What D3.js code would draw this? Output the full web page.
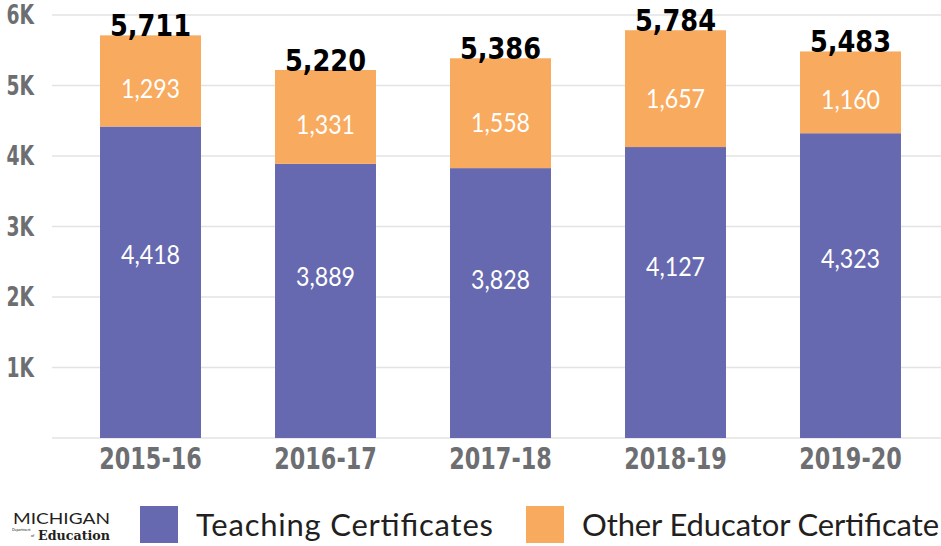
<!DOCTYPE html>
<html>
<head>
<meta charset="utf-8">
<script src="https://cdn.jsdelivr.net/npm/d3@7"></script>
<style>
  body { margin: 0; background: #fff; }
  svg { display: block; }
  .cond { font-family: "Liberation Sans Narrow", "DejaVu Sans Condensed", "Roboto", sans-serif; font-stretch: condensed; }
</style>
</head>
<body>
<div id="chart"></div>
<script>
const years = ["2015-16", "2016-17", "2017-18", "2018-19", "2019-20"];
const teaching = [4418, 3889, 3828, 4127, 4323];
const other = [1293, 1331, 1558, 1657, 1160];
const totals = [5711, 5220, 5386, 5784, 5483];
const yTicks = [1000, 2000, 3000, 4000, 5000, 6000];
const seriesNames = ["Teaching Certificates", "Other Educator Certificate"];
const colors = ["#6669AF", "#F8AA5E"];

function drawChart() {
    const W = 941, H = 546;
    const fmt = d3.format(",");

    const svg = d3.select("#chart").append("svg")
        .attr("width", W).attr("height", H);

    const x = d3.scaleBand()
        .domain(years)
        .range([63, 938])
        .paddingInner(0.423)
        .paddingOuter(0.2115);

    const y = d3.scaleLinear()
        .domain([0, 6000])
        .range([438, 15]);

    // gridlines
    svg.append("g").selectAll("line")
        .data([0].concat(yTicks))
        .enter().append("line")
        .attr("x1", 52).attr("x2", W)
        .attr("y1", d => y(d)).attr("y2", d => y(d))
        .attr("stroke", "#e3e3e3")
        .attr("stroke-width", 1.5);

    // y tick labels (condensed look via horizontal squeeze)
    svg.append("g").selectAll("text")
        .data(yTicks)
        .enter().append("text")
        .attr("class", "cond")
        .attr("transform", d => `translate(34,${y(d)}) scale(0.8,1)`)
        .attr("dy", "0.36em")
        .attr("text-anchor", "end")
        .attr("fill", "#6d6e71")
        .style("font-size", "26px")
        .style("font-weight", "bold")
        .text(d => (d / 1000) + "K");

    const stacked = d3.stack().keys([0, 1])
        .value((d, k) => k === 0 ? d.t : d.o)(years.map((yr, i) => ({ yr, t: teaching[i], o: other[i] })));

    const labelFrac = [0.41, 0.58];

    stacked.forEach((layer, k) => {
        const g = svg.append("g");
        g.selectAll("rect")
            .data(layer)
            .enter().append("rect")
            .attr("x", d => x(d.data.yr))
            .attr("width", x.bandwidth())
            .attr("y", d => y(d[1]))
            .attr("height", d => y(d[0]) - y(d[1]))
            .attr("fill", colors[k]);

        g.selectAll("text")
            .data(layer)
            .enter().append("text")
            .attr("transform", d => `translate(${x(d.data.yr) + x.bandwidth() / 2},${y(d[1]) + (y(d[0]) - y(d[1])) * labelFrac[k]}) scale(0.86,1)`)
            .attr("dy", "0.36em")
            .attr("text-anchor", "middle")
            .attr("fill", "#fff")
            .style("font-family", "Lato, 'Open Sans', sans-serif")
            .style("font-size", "27px")
            .text(d => fmt(d[1] - d[0]));
    });

    // totals
    svg.append("g").selectAll("text")
        .data(totals)
        .enter().append("text")
        .attr("class", "cond")
        .attr("transform", (d, i) => `translate(${x(years[i]) + x.bandwidth() / 2},${y(d) + 1}) scale(0.92,1)`)
        .attr("text-anchor", "middle")
        .attr("fill", "#000")
        .style("font-size", "31px")
        .style("font-weight", "bold")
        .text(d => fmt(d));

    // x labels
    svg.append("g").selectAll("text")
        .data(years)
        .enter().append("text")
        .attr("class", "cond")
        .attr("transform", d => `translate(${x(d) + x.bandwidth() / 2},469) scale(0.8,1)`)
        .attr("text-anchor", "middle")
        .attr("fill", "#6d6e71")
        .style("font-size", "31px")
        .style("font-weight", "bold")
        .text(d => d);

    // legend
    const legendX = [140, 526];
    const legendTextW = [297, 357];
    const leg = svg.append("g");
    seriesNames.forEach((name, i) => {
        leg.append("rect")
            .attr("x", legendX[i]).attr("y", 506)
            .attr("width", 38).attr("height", 37)
            .attr("fill", colors[i]);
        leg.append("text")
            .attr("x", legendX[i] + 56).attr("y", 525)
            .attr("dy", "0.36em")
            .attr("fill", "#231f20")
            .attr("textLength", legendTextW[i])
            .style("font-family", "Lato, 'Open Sans', sans-serif")
            .style("font-size", "31px")
            .text(name);
    });

    // logo
    const logo = svg.append("g").attr("fill", "#231f20");
    logo.append("text")
        .attr("x", 13).attr("y", 524)
        .style("font-family", "Lato, sans-serif")
        .style("font-size", "15px")
        .attr("textLength", 97)
        .attr("lengthAdjust", "spacingAndGlyphs")
        .text("MICHIGAN");
    logo.append("text")
        .attr("x", 12).attr("y", 531)
        .style("font-family", "Lato, sans-serif")
        .style("font-size", "3.5px")
        .text("Department");
    logo.append("text")
        .attr("x", 31).attr("y", 537)
        .style("font-family", "Lato, sans-serif")
        .style("font-size", "3.5px")
        .text("of");
    logo.append("text")
        .attr("x", 38).attr("y", 540)
        .style("font-family", "'DejaVu Serif', 'Liberation Serif', serif")
        .style("font-size", "13px")
        .style("font-weight", "bold")
        .attr("textLength", 72)
        .attr("lengthAdjust", "spacingAndGlyphs")
        .text("Education");
}

window.addEventListener("load", drawChart);
</script>
</body>
</html>
